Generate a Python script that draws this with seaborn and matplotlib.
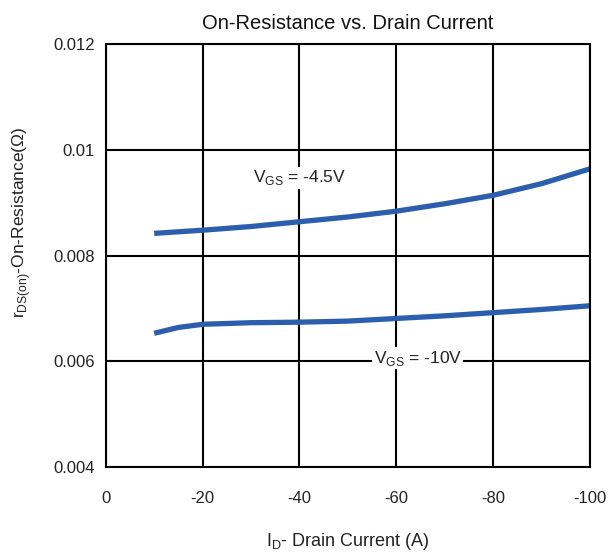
import pandas as pd
import matplotlib.pyplot as plt
import seaborn as sns

drain_current = [-10, -15, -20, -30, -40, -50, -60, -70, -80, -90, -100]
r_vgs_4p5 = [0.00842, 0.00845, 0.00848, 0.00855, 0.00864, 0.00873, 0.00884, 0.00898, 0.00914, 0.00936, 0.00964]
r_vgs_10 = [0.00653, 0.00664, 0.00670, 0.00673, 0.00674, 0.00676, 0.00681, 0.00686, 0.00692, 0.00698, 0.00705]

x_ticks = [0, -20, -40, -60, -80, -100]
y_ticks = [0.004, 0.006, 0.008, 0.01, 0.012]
y_tick_labels = ['0.004', '0.006', '0.008', '0.01', '0.012']

sns.set_style("white")
plt.rcParams['font.family'] = ['Liberation Sans', 'DejaVu Sans']
plt.rcParams['mathtext.fontset'] = 'custom'
plt.rcParams['mathtext.rm'] = 'Liberation Sans'

df = pd.DataFrame({
    'current': drain_current * 2,
    'resistance': r_vgs_4p5 + r_vgs_10,
    'vgs': ['-4.5V'] * len(drain_current) + ['-10V'] * len(drain_current),
})

fig = plt.figure(figsize=(6.08, 5.52), dpi=100)
ax = fig.add_axes([0.174, 0.154, 0.796, 0.766])

ax.set_xlim(0, -100)
ax.set_ylim(0.004, 0.012)
ax.set_xticks(x_ticks)
ax.set_xticklabels([str(t) for t in x_ticks])
ax.set_yticks(y_ticks)
ax.set_yticklabels(y_tick_labels)
ax.grid(True, color='black', linewidth=1.5)
ax.set_axisbelow(True)
for s in ax.spines.values():
    s.set_color('black')
    s.set_linewidth(1.5)

sns.lineplot(data=df, x='current', y='resistance', hue='vgs',
             palette=['#2b5fae', '#2b5fae'], linewidth=3.8, legend=False, ax=ax)
for line in ax.lines:
    line.set_solid_capstyle('butt')

ax.tick_params(axis='both', length=0, labelsize=12, labelcolor='#222222')
ax.tick_params(axis='x', pad=17)
ax.tick_params(axis='y', pad=8)

box = dict(facecolor='white', edgecolor='none', pad=1)
ax.text(-40, 0.00947, r'V$_{\rm GS}$ = -4.5V', ha='center', va='center',
        fontsize=12.5, color='#222222', bbox=box)
ax.text(-64.5, 0.00606, r'V$_{\rm GS}$ = -10V', ha='center', va='center',
        fontsize=12.5, color='#222222', bbox=box)

ax.set_title('On-Resistance vs. Drain Current', fontsize=14.5, pad=11, color='#111111')
ax.set_xlabel(r'I$_{\rm D}$- Drain Current (A)', fontsize=13, labelpad=18, color='#222222')
ax.set_ylabel(r'r$_{\rm DS(on)}$-On-Resistance($\Omega$)', fontsize=12.5, color='#222222')
# label sits above the axes centre in the reference
ax.yaxis.set_label_coords(-0.150, 0.579)

fig.savefig('out.png', dpi=100)
